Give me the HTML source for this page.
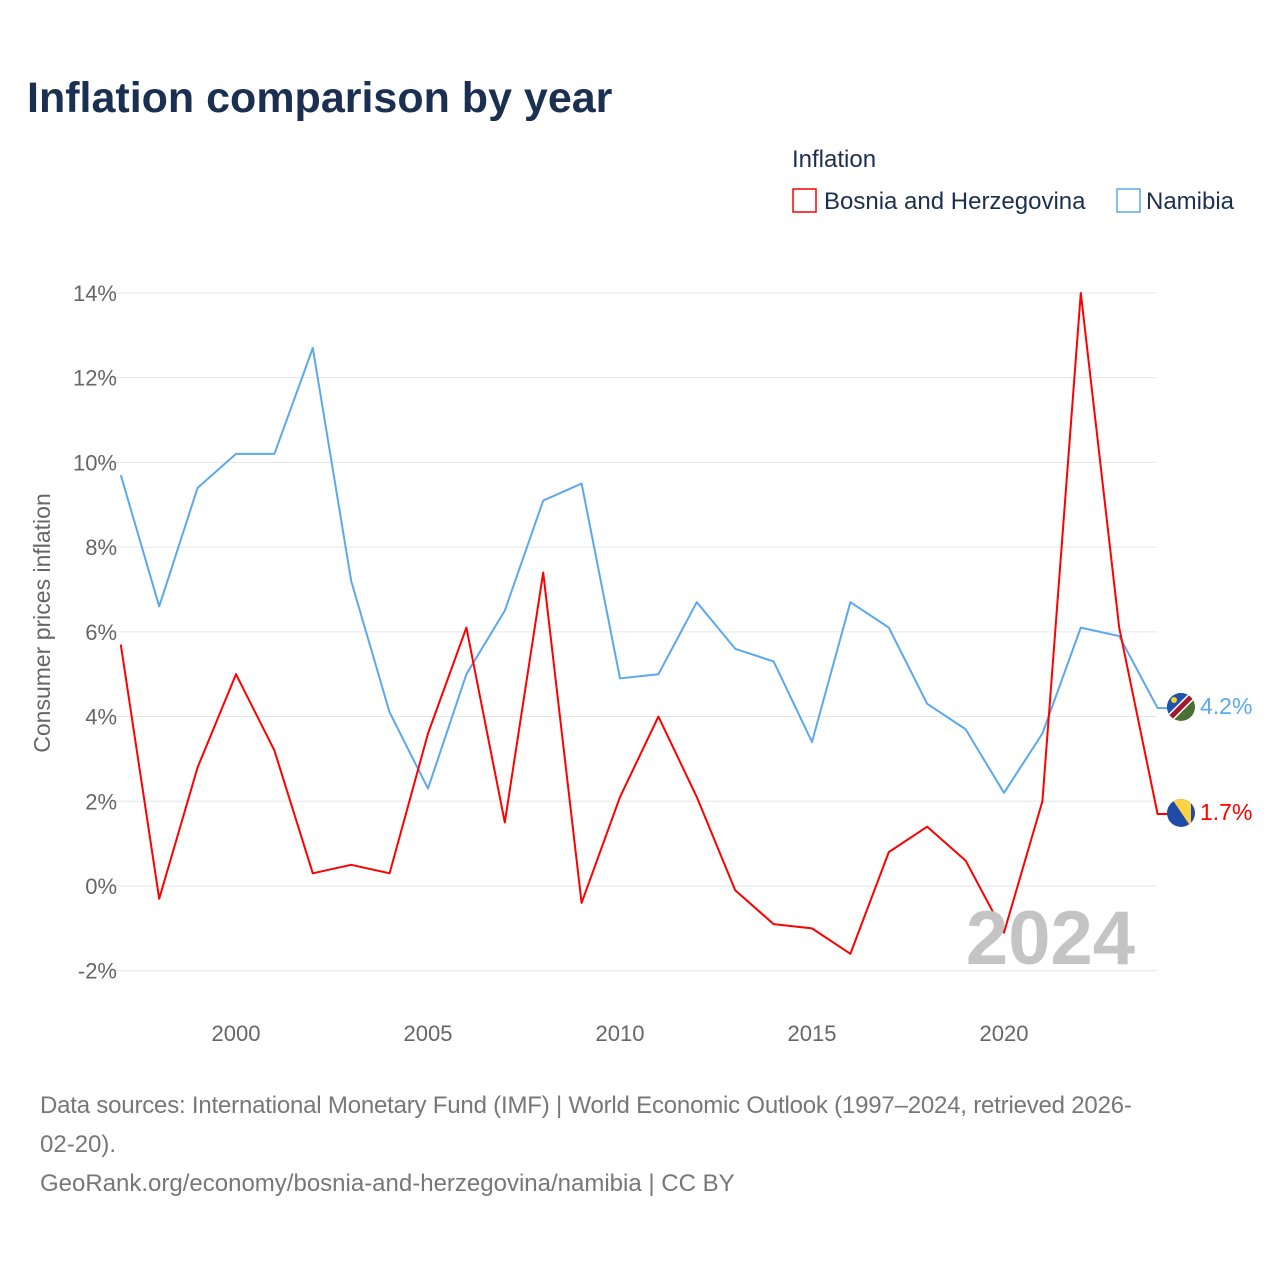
<!DOCTYPE html>
<html><head><meta charset="utf-8"><style>
body{margin:0;width:1280px;height:1280px;background:#fff;font-family:"Liberation Sans",sans-serif;overflow:hidden}
</style></head><body>
<svg id="c" width="1280" height="1280" xmlns="http://www.w3.org/2000/svg">
<defs>
<clipPath id="cn"><circle cx="1181" cy="707" r="14"/></clipPath>
<clipPath id="cb"><circle cx="1181" cy="813" r="14"/></clipPath>
</defs>
<text x="27" y="112" font-size="43" font-weight="bold" fill="#1b2f50">Inflation comparison by year</text>
<text x="792" y="167" font-size="24" fill="#1b2f50">Inflation</text>
<g><rect x="793" y="189" width="23" height="23" fill="none" stroke="#ff0000" stroke-width="1.5"/><text x="824" y="209" font-size="24" fill="#1b2f50">Bosnia and Herzegovina</text></g>
<g><rect x="1117" y="189" width="23" height="23" fill="none" stroke="#5ca8ee" stroke-width="1.5"/><text x="1146" y="209" font-size="24" fill="#1b2f50">Namibia</text></g>
<g id="grid"></g>
<g id="lines"></g>
<text x="1135" y="964" font-size="76" font-weight="bold" fill="#c4c4c4" text-anchor="end">2024</text>
<text transform="translate(50,623) rotate(-90)" font-size="23" fill="#666" text-anchor="middle">Consumer prices inflation</text>
<g clip-path="url(#cn)">
<rect x="1167" y="693" width="28" height="28" fill="#4b7033"/>
<polygon points="1167,693 1195,693 1167,721" fill="#1f55b0"/>
<line x1="1167" y1="721" x2="1195" y2="693" stroke="#fff" stroke-width="8"/>
<line x1="1167" y1="721" x2="1195" y2="693" stroke="#a01b30" stroke-width="5"/>
<circle cx="1174" cy="700" r="3" fill="#ffcd2e"/>
</g>
<g clip-path="url(#cb)">
<rect x="1167" y="799" width="28" height="28" fill="#1f4aa8"/>
<polygon points="1172,799 1191,799 1191,827" fill="#fdd344"/>
</g>
<text x="1200" y="714" font-size="23" fill="#5ca8ee">4.2%</text>
<text x="1200" y="820" font-size="23" fill="#ff0000">1.7%</text>
<text x="40" y="1113" font-size="24" fill="#777" letter-spacing="-0.2">Data sources: International Monetary Fund (IMF) | World Economic Outlook (1997–2024, retrieved 2026-</text>
<text x="40" y="1152" font-size="24" fill="#777">02-20).</text>
<text x="40" y="1191" font-size="24" fill="#777">GeoRank.org/economy/bosnia-and-herzegovina/namibia | CC BY</text>
</svg>
<script>
const years=[1997,1998,1999,2000,2001,2002,2003,2004,2005,2006,2007,2008,2009,2010,2011,2012,2013,2014,2015,2016,2017,2018,2019,2020,2021,2022,2023,2024];
const namibia=[9.7,6.6,9.4,10.2,10.2,12.7,7.2,4.1,2.3,5.0,6.5,9.1,9.5,4.9,5.0,6.7,5.6,5.3,3.4,6.7,6.1,4.3,3.7,2.2,3.6,6.1,5.9,4.2];
const bosnia=[5.7,-0.3,2.8,5.0,3.2,0.3,0.5,0.3,3.6,6.1,1.5,7.4,-0.4,2.1,4.0,2.1,-0.1,-0.9,-1.0,-1.6,0.8,1.4,0.6,-1.1,2.0,14.0,6.1,1.7];
const yTicks=[-2,0,2,4,6,8,10,12,14];
const xTicks=[2000,2005,2010,2015,2020];
const NS="http://www.w3.org/2000/svg";
const X=y=>120.8+(y-1997)*38.4;
const Y=v=>886-v*42.36;
const grid=document.getElementById('grid'),lines=document.getElementById('lines');
function mk(tag,at,p){const e=document.createElementNS(NS,tag);for(const k in at)e.setAttribute(k,at[k]);p.appendChild(e);return e;}
yTicks.forEach(t=>{
 const l=mk('line',{x1:110,x2:1157,y1:Y(t),y2:Y(t),stroke:'#e6e6e6','stroke-width':1},grid);
 
 
 const tx=mk('text',{x:117,y:Y(t)+8,'font-size':22,fill:'#666','text-anchor':'end'},grid);
 tx.textContent=t+'%';
 
 
});
xTicks.forEach(t=>{
 const tx=mk('text',{x:X(t),y:1041,'font-size':22,fill:'#666','text-anchor':'middle'},grid);
 tx.textContent=t;
 
 
});
function series(vals,color,name){
 let d=vals.map((v,i)=>(i?'L':'M')+X(years[i])+','+Y(vals[i])).join(' ');
 d+=' L'+(X(years[years.length-1])+10)+','+Y(vals[vals.length-1]);
 const p=mk('path',{d:d,fill:'none',stroke:color,'stroke-width':2,'stroke-linejoin':'round'},lines);
 
 
}
series(namibia,'#5ca8ee','namibia-line');
series(bosnia,'#ff0000','bosnia-line');
</script>
</body></html>
